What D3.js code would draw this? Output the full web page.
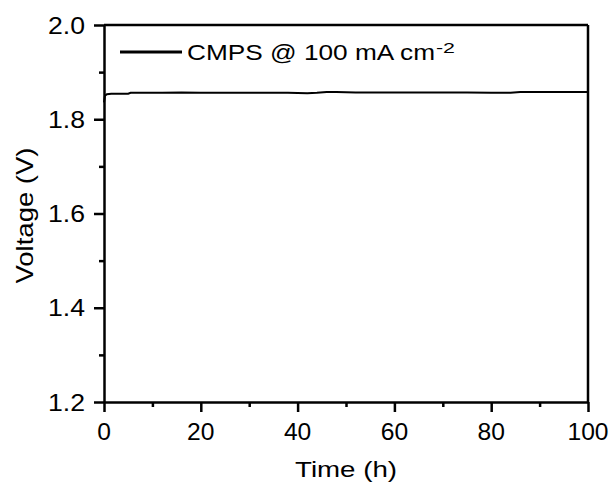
<!DOCTYPE html>
<html><head>
<script src="https://d3js.org/d3.v7.min.js"></script>
<style>
  body { margin: 0; background: #fff; }
  text { font-family: "Liberation Sans", Arial, sans-serif; fill: #000; }
</style>
</head>
<body>
<svg id="chart" width="616" height="490"></svg>
<script>
// data
const timeH = [0, 0.2, 0.6, 1.5, 3, 5, 5.5, 8, 12, 16, 20, 25, 30, 34, 38, 42, 44, 46, 48, 52, 56, 60, 65, 70, 75, 80, 84, 86, 88, 92, 96, 100];
const voltage = [1.836, 1.850, 1.853, 1.854, 1.854, 1.854, 1.856, 1.856, 1.856, 1.857, 1.856, 1.856, 1.856, 1.856, 1.856, 1.855, 1.856, 1.858, 1.858, 1.857, 1.857, 1.857, 1.857, 1.857, 1.857, 1.856, 1.856, 1.858, 1.858, 1.858, 1.858, 1.858];
const xTicks = [0, 20, 40, 60, 80, 100];
const xMinor = [10, 30, 50, 70, 90];
const yTicks = [1.2, 1.4, 1.6, 1.8, 2.0];
const yMinor = [1.3, 1.5, 1.7, 1.9];
const seriesName = "CMPS @ 100 mA cm";
const seriesSup = "-2";

const svg = d3.select("svg#chart");
const m = {top: 25, right: 28, bottom: 88, left: 104};
const W = 616 - m.left - m.right;
const H = 490 - m.top - m.bottom;

const x = d3.scaleLinear().domain([0, 100]).range([m.left, m.left + W]);
const y = d3.scaleLinear().domain([1.2, 2.0]).range([m.top + H, m.top]);

// frame (top and right)
svg.append("line").attr("x1", x(0)).attr("x2", x(100)).attr("y1", y(2.0)).attr("y2", y(2.0))
   .style("stroke", "#000").style("stroke-width", 2.5);
svg.append("line").attr("x1", x(100)).attr("x2", x(100)).attr("y1", y(2.0)).attr("y2", y(1.2))
   .style("stroke", "#000").style("stroke-width", 2.5);

// axes
const gx = svg.append("g").attr("transform", `translate(0,${y(1.2)})`)
   .call(d3.axisBottom(x).tickValues(xTicks).tickSize(10).tickSizeOuter(0).tickFormat(""));
const gxm = svg.append("g").attr("transform", `translate(0,${y(1.2)})`)
   .call(d3.axisBottom(x).tickValues(xMinor).tickSize(5).tickSizeOuter(0).tickFormat(""));
const gy = svg.append("g").attr("transform", `translate(${x(0)},0)`)
   .call(d3.axisLeft(y).tickValues(yTicks).tickSize(10).tickSizeOuter(0).tickFormat(""));
const gym = svg.append("g").attr("transform", `translate(${x(0)},0)`)
   .call(d3.axisLeft(y).tickValues(yMinor).tickSize(5).tickSizeOuter(0).tickFormat(""));
[gx, gxm, gy, gym].forEach(g => {
  g.selectAll("path, line").style("stroke", "#000").style("stroke-width", 2.5);
});
gxm.select("path").remove();
gym.select("path").remove();

// tick labels
xTicks.forEach(t => {
  svg.append("text").attr("x", x(t)).attr("y", 440)
     .attr("text-anchor", "middle").style("font-size", "24px")
     .attr("textLength", String(t).length * 13.7).attr("lengthAdjust", "spacingAndGlyphs")
     .text(t);
});
yTicks.forEach(t => {
  svg.append("text").attr("x", 85).attr("y", y(t) + 8.5)
     .attr("text-anchor", "end").style("font-size", "24px")
     .attr("textLength", 37).attr("lengthAdjust", "spacingAndGlyphs")
     .text(t.toFixed(1));
});

// axis titles
svg.append("text").attr("x", 346).attr("y", 477).attr("text-anchor", "middle")
   .style("font-size", "22px").attr("textLength", 102).attr("lengthAdjust", "spacingAndGlyphs")
   .text("Time (h)");
svg.append("text").attr("transform", `translate(33,${(y(2.0) + y(1.2)) / 2 + 2}) rotate(-90)`)
   .attr("text-anchor", "middle").style("font-size", "24px")
   .attr("textLength", 136).attr("lengthAdjust", "spacingAndGlyphs")
   .text("Voltage (V)");

// data line
const line = d3.line().x((d, i) => x(timeH[i])).y(d => y(d));
svg.append("path").datum(voltage).attr("d", line)
   .style("fill", "none").style("stroke", "#000").style("stroke-width", 2);

// legend
svg.append("line").attr("x1", 120).attr("x2", 182).attr("y1", 52).attr("y2", 52)
   .style("stroke", "#000").style("stroke-width", 3);
svg.append("text").attr("x", 187).attr("y", 60).style("font-size", "22px")
   .attr("textLength", 248).attr("lengthAdjust", "spacingAndGlyphs")
   .text(seriesName);
svg.append("text").attr("x", 436).attr("y", 53).style("font-size", "14px")
   .attr("textLength", 19).attr("lengthAdjust", "spacingAndGlyphs")
   .text(seriesSup);
</script>
</body></html>
